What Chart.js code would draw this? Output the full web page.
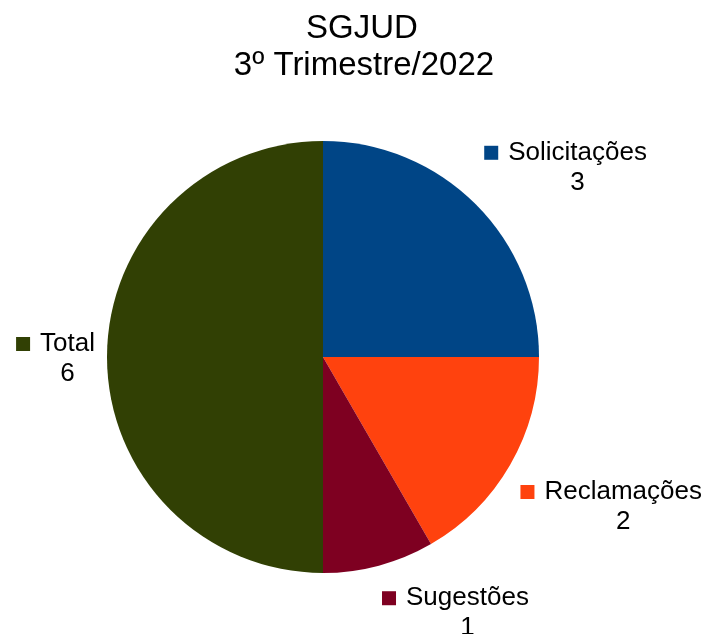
<!DOCTYPE html>
<html>
<head>
<meta charset="utf-8">
<script src="https://cdn.jsdelivr.net/npm/chart.js@4"></script>
<style>
  html, body { margin: 0; padding: 0; background: #fff; }
  #wrap { width: 707px; height: 634px; }
</style>
</head>
<body>
<div id="wrap"><canvas id="grafico"></canvas></div>
<script>
// datos del grafico
const titulo = ["SGJUD", "3º Trimestre/2022"];
const categorias = ["Solicitações", "Reclamações", "Sugestões", "Total"];
const valores = [3, 2, 1, 6];
const colores = ["#004586", "#ff420e", "#7e0021", "#314004"];

const fuente = "'Liberation Sans', Arial, sans-serif";

// titulo y etiquetas dibujadas a mano
const etiquetas = {
  id: "etiquetas",
  afterDraw(chart) {
    const ctx = chart.ctx;
    ctx.save();
    ctx.fillStyle = "#000";
    ctx.textAlign = "center";
    ctx.textBaseline = "alphabetic";
    ctx.font = "33px " + fuente;
    ctx.fillText(titulo[0], 362, 38);
    ctx.fillText(titulo[1], 364, 75);

    ctx.font = "26px " + fuente;
    const meta = chart.getDatasetMeta(0);
    meta.data.forEach((arc, i) => {
      const p = arc.getProps(["x", "y", "startAngle", "endAngle", "outerRadius"], true);
      const mid = (p.startAngle + p.endAngle) / 2;
      const r = p.outerRadius + 12;
      const px = p.x + Math.cos(mid) * r;
      const py = p.y + Math.sin(mid) * r;
      const texto = categorias[i];
      const tw = ctx.measureText(texto).width;
      const bw = 14 + 10 + tw;
      const bh = 60;
      let left, top;
      const c = Math.cos(mid), s = Math.sin(mid);
      if (c > 0.1) left = px;
      else if (c < -0.1) left = px - bw;
      else left = px - bw / 2;
      if (s > 0.3) top = py + 4;
      else if (s < -0.3) top = py - bh;
      else top = py - bh / 2;

      const base1 = top + 24;
      const base2 = top + 54;
      ctx.fillStyle = colores[i];
      ctx.fillRect(left, base1 - 14, 14, 14);
      ctx.fillStyle = "#000";
      ctx.textAlign = "left";
      ctx.fillText(texto, left + 24, base1);
      ctx.textAlign = "center";
      ctx.fillText(String(valores[i]), left + 24 + tw / 2, base2);
    });
    ctx.restore();
  },
};

const canvas = document.getElementById("grafico");
new Chart(canvas, {
  type: "pie",
  data: {
    labels: categorias,
    datasets: [
      {
        data: valores,
        backgroundColor: colores,
        borderWidth: 0,
      },
    ],
  },
  options: {
    responsive: true,
    maintainAspectRatio: false,
    animation: false,
    layout: { padding: { top: 141, left: 107, right: 168, bottom: 61 } },
    plugins: {
      legend: { display: false },
      title: { display: false },
      tooltip: { enabled: false },
    },
  },
  plugins: [etiquetas],
});
</script>
</body>
</html>
